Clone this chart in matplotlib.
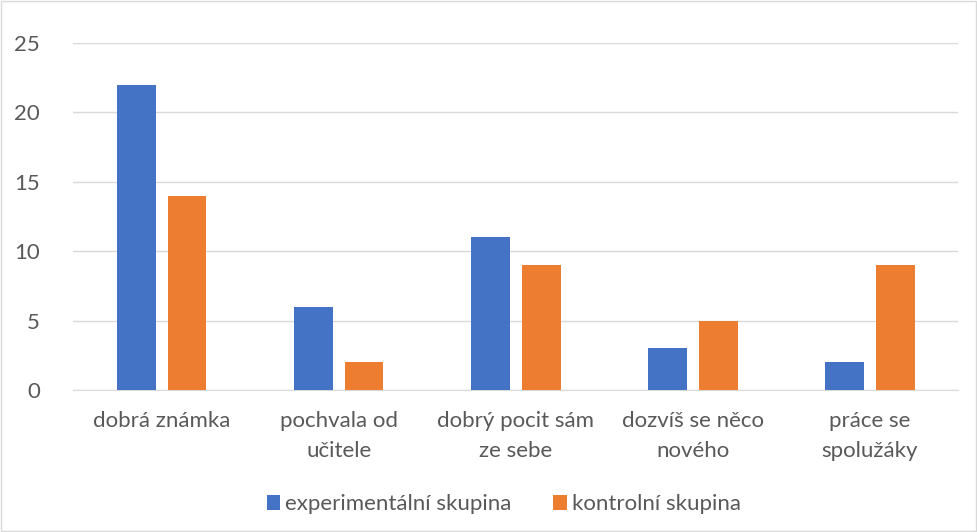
import numpy as np
import matplotlib.pyplot as plt
from matplotlib.patches import Rectangle

categories = ["dobrá známka", "pochvala od\nučitele", "dobrý pocit sám\nze sebe",
              "dozvíš se něco\nnového", "práce se\nspolužáky"]
experimental = [22, 6, 11, 3, 2]
control = [14, 2, 9, 5, 9]
series_names = ["experimentální skupina", "kontrolní skupina"]

plt.rcParams["font.family"] = ["Lato", "DejaVu Sans"]
text_color = "#595959"

fig = plt.figure(figsize=(9.78, 5.32), dpi=100)
ax = fig.add_axes([0.075, 0.267, 0.905, 0.652])

x = np.arange(len(categories))
w = 0.22
off = 0.142
ax.bar(x - off, experimental, w, color="#4472C4", label=series_names[0], zorder=3)
ax.bar(x + off, control, w, color="#ED7D31", label=series_names[1], zorder=3)

ax.set_xlim(-0.5, len(categories) - 0.5)
ax.set_ylim(0, 25)
ax.set_yticks(range(0, 26, 5))
ax.yaxis.grid(True, color="#D9D9D9", linewidth=1, zorder=0)
for s in ["top", "right", "left"]:
    ax.spines[s].set_visible(False)
ax.spines["bottom"].set_color("#D9D9D9")
ax.tick_params(axis="both", length=0, labelsize=16, colors=text_color)
ax.tick_params(axis="y", pad=24)
ax.tick_params(axis="x", pad=15.5)
ax.set_xticks(x)
ax.set_xticklabels(categories, linespacing=1.58)

leg = fig.legend(loc="center", bbox_to_anchor=(0.515, 0.052), ncol=2, frameon=False,
                 fontsize=16, handlelength=0.62, handleheight=0.62,
                 handletextpad=0.2, columnspacing=1.9)
for t in leg.get_texts():
    t.set_color(text_color)

fig.patches.append(Rectangle((0.001, 0.001), 0.997, 0.997, transform=fig.transFigure,
                             fill=False, edgecolor="#D9D9D9", linewidth=1))

fig.savefig("out.png", dpi=100)
